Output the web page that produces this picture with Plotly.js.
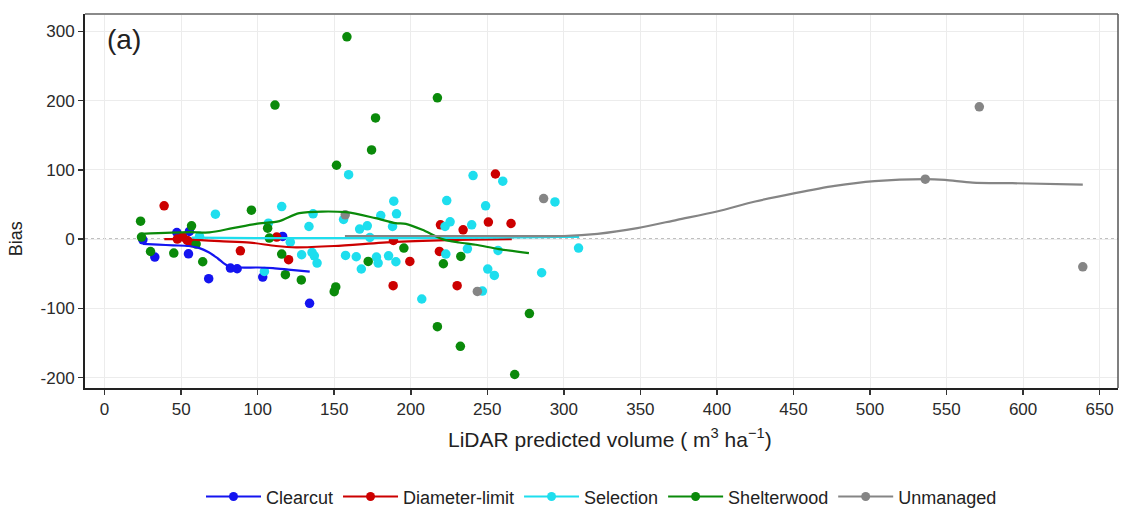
<!DOCTYPE html>
<html>
<head>
<meta charset="utf-8">
<script src="https://cdn.plot.ly/plotly-3.0.1.min.js"></script>
<style>html,body{margin:0;padding:0;background:#fff;}#chart{width:1121px;height:508px;}</style>
</head>
<body>
<div id="chart"></div>
<script>
// ---- Data ----
const groups = ["Clearcut", "Diameter-limit", "Selection", "Shelterwood", "Unmanaged"];

const clearcutX = [25, 32.8, 47.2, 54.8, 55.4, 55.9, 68, 82.2, 86.6, 103.3, 116.3, 133.9];
const clearcutY = [-1, -26, 9.5, -21.2, 11, -4.4, -57.2, -41.8, -42.8, -54.8, 3.8, -92.8];

const diameterX = [38.9, 47.5, 51, 54, 57, 88.7, 112.4, 120.2, 188.7, 188.5, 199.4, 218.7, 219.4, 230.3, 234.2, 250.7, 255.3, 265.5];
const diameterY = [48, 0, 3, -2, -5, -16.9, 2.9, -29.8, -2, -67.3, -32.2, -17.8, 20.6, -67.3, 13.4, 24.5, 94, 22.5];

const selectionX = [62, 72.4, 104.4, 107, 115.7, 121.3, 128.7, 133.5, 135.5, 137, 138.8, 136.2, 156.1, 157.4, 159.4, 164.4, 166.6, 167.7, 171.6, 173.3, 177.6, 178.7, 180.4, 185.5, 188.1, 188.9, 190.3, 190.7, 207.2, 222.4, 222.9, 223.5, 225.7, 237, 239.8, 240.7, 246.8, 248.9, 250.3, 254.6, 257, 260.1, 285.5, 294.2, 309.6];
const selectionY = [4, 36, -46.7, 23, 47, -4.4, -22.6, 18.2, -19.3, -24.1, -34.6, 36.5, 28.3, -23.6, 93, -25.5, 14.4, -43.2, 19.2, 2.3, -26, -34.6, 34, -24.1, 18.2, 54.7, -32.7, 36.5, -86.5, 18.2, -21.7, 55.6, 24.9, -14, 20.6, 91.7, -75, 48, -43.3, -52.4, -16.4, 83.6, -48.6, 53.7, -13];

const shelterwoodX = [23.5, 24.1, 30, 45.2, 56.8, 59.8, 64.1, 95.9, 106.5, 107.6, 111.3, 115.7, 118.1, 128.5, 150, 151, 151.5, 158.3, 172.2, 174.4, 177, 195.5, 217.4, 217.4, 221.3, 232.4, 232.7, 267.9, 277.5];
const shelterwoodY = [25.9, 2.9, -17.9, -20.2, 19.2, -7.2, -32.7, 41.8, 15.8, 1.4, 193.5, -21.6, -51.4, -58.9, -76, -69, 106.6, 292, -32.2, 128.7, 175, -13, 204, -126.4, -35.6, -154.8, -25, -195.5, -107.6];

const unmanagedX = [157.2, 243.5, 286.8, 536.1, 571.4, 639];
const unmanagedY = [35, -75.5, 58.5, 86.5, 191, -40];

// smoothed trend lines
const clearcutFitX = [25, 35, 45, 55, 62, 68, 74, 80, 88, 100, 110, 120, 134];
const clearcutFitY = [-7, -8, -9, -10, -13, -19, -28, -38, -41, -41, -42, -44, -47];

const diameterFitX = [39, 50, 60, 75, 95, 112, 125, 150, 190, 230, 266];
const diameterFitY = [0, 0, -1, -3, -5, -10, -12, -10, -4, -1, 0];

const selectionFitX = [57, 100, 150, 200, 250, 300, 310];
const selectionFitY = [2, 1.5, 1.5, 1.5, 2, 3, 3];

const shelterwoodFitX = [24, 55, 68.5, 83.7, 98.9, 114.2, 127.2, 157.6, 177, 190, 196.8, 207.6, 220.7, 231.6, 242.5, 257.7, 277.2];
const shelterwoodFitY = [7.6, 10, 9.6, 15.8, 22, 26, 37.4, 38.9, 30.2, 23, 22, 13.4, 0, -4.9, -8.2, -14.4, -20.2];

const unmanagedFitX = [157, 200, 250, 300, 322, 348, 374, 400, 425, 451, 477, 503, 536, 549, 567, 593, 639];
const unmanagedFitY = [4.5, 4.5, 4.5, 4.5, 7.6, 15.8, 27.8, 39.8, 54.2, 66.3, 76.8, 83.6, 86.5, 85.4, 81.6, 80.7, 78.7];

const xTicks = [0, 50, 100, 150, 200, 250, 300, 350, 400, 450, 500, 550, 600, 650];
const yTicks = [-200, -100, 0, 100, 200, 300];
const yTickText = ["-200", "-100", "0", "100", "200", "300"];

// ---- Styling ----
const colors = ["#1414F0", "#CC0000", "#1EDEEE", "#0A8A0A", "#858585"];
const pts = [[clearcutX, clearcutY], [diameterX, diameterY], [selectionX, selectionY], [shelterwoodX, shelterwoodY], [unmanagedX, unmanagedY]];
const fits = [[clearcutFitX, clearcutFitY], [diameterFitX, diameterFitY], [selectionFitX, selectionFitY], [shelterwoodFitX, shelterwoodFitY], [unmanagedFitX, unmanagedFitY]];

const traces = [];
groups.forEach((g, i) => {
  traces.push({x: pts[i][0], y: pts[i][1], type: "scatter", mode: "markers",
    marker: {color: colors[i], size: 9.5}, showlegend: false, legendgroup: g, hoverinfo: "x+y"});
});
groups.forEach((g, i) => {
  traces.push({x: fits[i][0], y: fits[i][1], type: "scatter", mode: "lines",
    line: {color: colors[i], width: 2.2, shape: "spline", smoothing: 0.8}, showlegend: false, legendgroup: g, hoverinfo: "skip"});
});
groups.forEach((g, i) => {
  traces.push({x: [null], y: [null], type: "scatter", mode: "lines+markers", name: g,
    line: {color: colors[i], width: 2.2}, marker: {color: colors[i], size: 9}, legendgroup: g});
});

const font = "Liberation Sans, Arial, sans-serif";
const layout = {
  width: 1121, height: 508,
  margin: {l: 85, r: 3, t: 14, b: 120, autoexpand: false},
  paper_bgcolor: "#fff", plot_bgcolor: "#fff",
  font: {family: font, size: 17, color: "#333"},
  xaxis: {range: [-12.8, 662], tickvals: xTicks, showgrid: true, gridcolor: "#ececec", gridwidth: 1, automargin: false,
    zeroline: false, showline: true, linecolor: "#222", linewidth: 2, ticks: "outside", ticklen: 5,
    tickcolor: "#333", tickwidth: 1.5, tickfont: {size: 17, color: "#2a2a2a"}},
  yaxis: {range: [-215, 325], tickvals: yTicks, ticktext: yTickText, showgrid: true, gridcolor: "#ececec", gridwidth: 1, automargin: false,
    zeroline: false, showline: true, linecolor: "#222", linewidth: 2, ticks: "outside", ticklen: 5,
    tickcolor: "#333", tickwidth: 1.5, tickfont: {size: 17, color: "#2a2a2a"}},
  shapes: [
    {type: "line", xref: "paper", yref: "y", x0: 0, x1: 1, y0: 0, y1: 0, line: {color: "#666", width: 1, dash: "dot"}, layer: "below"},
    {type: "line", xref: "paper", yref: "paper", x0: 0, x1: 1, y0: 1, y1: 1, line: {color: "#8a8a8a", width: 2}},
    {type: "line", xref: "paper", yref: "paper", x0: 1, x1: 1, y0: 0, y1: 1, line: {color: "#555", width: 1.5}}
  ],
  annotations: [
    {text: "(a)", xref: "paper", yref: "paper", x: 0.019, y: 0.933, xanchor: "left", yanchor: "middle", showarrow: false,
      font: {size: 28, color: "#222", family: font}},
    {text: "Bias", xref: "paper", yref: "paper", x: -0.066, y: 0.40, xanchor: "center", yanchor: "middle", textangle: -90,
      showarrow: false, font: {size: 18, color: "#222", family: font}},
    {text: "LiDAR predicted volume ( m<sup>3</sup> ha<sup>\u22121</sup>)", xref: "paper", yref: "paper", x: 0.508, y: -0.133,
      xanchor: "center", yanchor: "middle", showarrow: false, font: {size: 21, color: "#222", family: font}}
  ],
  legend: {orientation: "h", x: 0.5, xanchor: "center", xref: "paper", yref: "container", y: 0.022, yanchor: "middle", itemwidth: 55,
    font: {size: 18, color: "#222", family: font}, bgcolor: "rgba(0,0,0,0)"},
  showlegend: true
};

Plotly.newPlot("chart", traces, layout, {displayModeBar: false, staticPlot: true});
</script>
</body>
</html>
